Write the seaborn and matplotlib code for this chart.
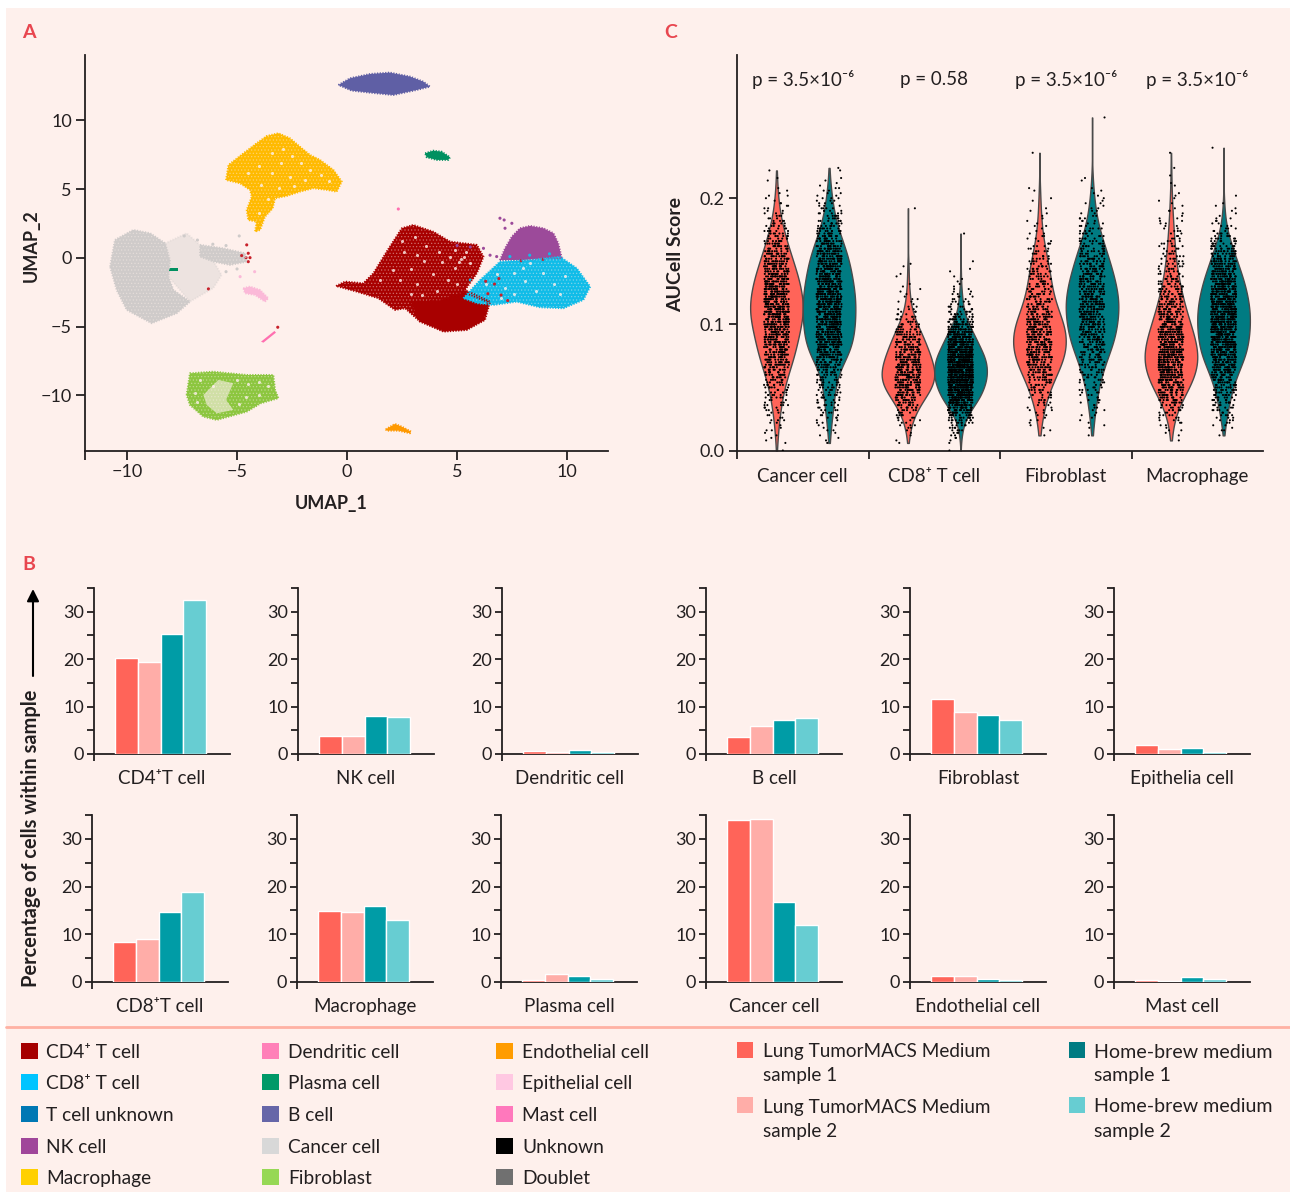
import numpy as np
import pandas as pd
import matplotlib.pyplot as plt
from matplotlib.colors import to_rgb
from matplotlib.patches import Rectangle
import seaborn as sns

# === Panel A: cluster outlines (UMAP_1, UMAP_2) ===
macrophage_outline = [(-5.5, 5.67), (-5.39, 6.76), (-4.71, 7.61), (-4.11, 8.34), (-3.65, 8.87), (-3.12, 9.07),
                      (-2.59, 8.70), (-2.06, 7.98), (-1.68, 7.49), (-1.23, 7.13), (-0.62, 6.40), (-0.24, 5.55),
                      (-0.47, 4.82), (-0.92, 4.95), (-1.53, 5.07), (-2.14, 4.82), (-2.74, 4.51), (-3.27, 4.34),
                      (-3.38, 3.61), (-3.73, 3.0), (-3.95, 2.04), (-4.18, 1.91), (-4.11, 2.64), (-4.49, 2.76),
                      (-4.56, 3.49), (-4.33, 4.46), (-4.41, 4.95), (-4.86, 5.43)]
cancer_body_outline = [(-10.77, -0.63), (-10.55, 1.31), (-9.71, 2.04), (-8.95, 1.80), (-8.27, 1.07), (-8.05, -0.15),
                       (-8.12, -1.36), (-7.89, -2.33), (-7.14, -3.18), (-7.74, -4.02), (-8.88, -4.75),
                       (-10.01, -3.78), (-10.47, -2.33)]
cancer_arm_outline = [(-6.68, 0.95), (-5.62, 0.70), (-4.64, 0.34), (-4.56, -0.27), (-5.32, -0.51), (-6.06, -0.27),
                      (-6.68, 0.09)]
cancer_fan_outline = [(-8.27, 1.07), (-7.29, 1.80), (-6.68, 0.95), (-6.06, -0.27), (-5.70, -1.24), (-6.08, -2.2),
                      (-7.14, -3.18), (-8.12, -1.36)]
fibroblast_outline = [(-7.29, -9.96), (-7.14, -8.39), (-6.08, -8.27), (-4.56, -8.51), (-3.35, -8.51), (-3.27, -9.6),
                      (-3.12, -10.2), (-3.92, -10.57), (-4.56, -11.18), (-5.92, -11.78), (-6.53, -11.54),
                      (-7.14, -10.69)]
fibroblast_hole = [(-6.53, -9.96), (-5.85, -8.87), (-5.17, -9.11), (-5.5, -10.33), (-5.17, -11.05), (-5.92, -11.3),
                   (-6.38, -10.69)]
epithelial_outline = [(-4.71, -2.2), (-4.41, -2.08), (-3.95, -2.33), (-3.58, -2.93), (-3.73, -3.18), (-4.18, -2.69),
                      (-4.64, -2.57)]
mast_outline = [(-3.91, -6.09), (-3.30, -5.31), (-3.23, -5.43), (-3.80, -6.16)]
plasma_small_outline = [(-8.08, -0.72), (-7.70, -0.72), (-7.70, -0.92), (-8.08, -0.92)]
bcell_outline = [(-0.39, 12.58), (0.14, 13.07), (1.05, 13.38), (1.95, 13.48), (2.86, 13.19), (3.47, 12.82),
                 (3.77, 12.46), (3.17, 12.22), (2.10, 11.85), (1.05, 12.02), (0.21, 12.17)]
plasma_outline = [(3.55, 7.61), (3.92, 7.80), (4.30, 7.73), (4.68, 7.32), (4.60, 7.13), (4.08, 7.13), (3.62, 7.32)]
endothelial_outline = [(1.76, -12.46), (2.18, -12.07), (2.49, -12.27), (2.91, -12.63), (2.86, -12.75), (2.33, -12.56),
                       (1.80, -12.56)]
cd4_outline = [(-0.5, -2.04), (-0.09, -1.72), (0.74, -1.84), (1.2, -1.11), (1.8, 0.46), (2.49, 2.16), (3.01, 2.4),
               (3.92, 1.91), (4.68, 1.19), (5.9, 0.95), (6.2, 0.09), (5.9, -1.11), (5.36, -2.33), (6.5, -3.18),
               (6.27, -4.51), (5.44, -5.24), (4.38, -5.36), (3.32, -4.63), (2.64, -3.66), (2.18, -3.78), (1.42, -2.93),
               (0.44, -2.45)]
cd4_dense_outline = [(2.9, -3.2), (4.2, -3.1), (5.3, -2.5), (6.4, -3.2), (6.2, -4.5), (5.4, -5.2), (4.4, -5.3),
                     (3.3, -4.6)]
nk_outline = [(6.95, -0.15), (7.18, 0.70), (7.49, 1.55), (7.86, 2.16), (8.32, 2.33), (8.92, 2.16), (9.38, 1.80),
              (9.6, 1.07), (9.76, -0.02), (9.08, -0.02), (8.01, -0.15)]
cd8_outline = [(5.29, -2.93), (6.05, -1.6), (6.95, -0.27), (8.32, -0.15), (9.68, 0.09), (10.44, -0.75), (11.05, -2.09),
               (10.74, -3.05), (9.83, -3.66), (8.77, -3.59), (7.71, -3.18), (6.65, -3.42), (5.9, -3.29)]

# gaps in the clouds, where the background shows through
red_gap_x = [1.5, 2.1, 2.6, 3.1, 3.6, 4.2, 4.9, 5.4, 5.6, 4.9, 4.3, 3.5, 2.9, 2.4, 3.2, 3.9, 4.6, 5.0, 3.4, 4.1, 2.9,
             3.2, 2.5, 4.7, 5.2, 5.1, 5.3]
red_gap_y = [-1.6, -0.9, 0.4, 1.5, 0.9, 0.4, 0.6, 0.4, -0.4, -0.7, -0.3, -0.2, -0.8, -1.6, -1.9, -1.2, -1.6, -1.9,
             -2.7, -2.4, -2.6, 0.2, 1.2, 0.1, -0.1, -0.3, 0.05]
gold_gap_x = [-3.4, -2.9, -2.5, -3.0, -2.1, -1.7, -1.2, -0.8, -1.9, -2.6, -3.4, -4.0, -4.5, -3.9, -3.1, -2.4, -3.6, -4.0]
gold_gap_y = [7.6, 7.9, 7.4, 6.9, 6.9, 6.4, 6.0, 5.6, 5.7, 5.9, 6.2, 6.7, 6.2, 5.3, 5.1, 5.2, 4.3, 3.3]
cyan_gap_x = [6.3, 6.8, 7.2, 7.6, 8.0, 8.1, 8.6, 8.9, 9.4, 9.9, 9.7, 7.0, 7.6, 8.3]
cyan_gap_y = [-1.9, -1.2, -2.2, -1.1, -0.7, -1.7, -2.4, -1.1, -1.9, -1.3, -2.6, -2.9, -2.6, -0.4]
green_gap_x = [-6.7, -6.1, -5.0, -4.5, -4.0, -3.6, -4.6, -4.0, -4.9, -6.9, -6.8]
green_gap_y = [-8.9, -9.3, -8.9, -9.2, -9.0, -9.3, -10.1, -10.0, -10.6, -9.8, -10.5]

stray_x = [-4.56, -4.79, -4.49, -4.59, -4.41, -4.49, -6.3, -3.15, 2.33, 6.95, 7.14, 7.18, 7.49, -4.86, -4.2,
           5.6, 5.9, 5.5, 6.2, 6.3, 6.7, 6.4, 7.0, 6.9, 7.9, 8.9, 7.3, 5.0, 5.6, 6.2, 6.5, 6.8, 7.4, 8.3, 9.2,
           -7.4, -6.8, -6.1, -5.5, -4.9, -5.5, -5.0]
stray_y = [0.95, 0.17, 0.34, 0.02, 0.02, -0.27, -2.25, -5.04, 3.56, 2.89, 2.76, 2.16, 2.52, -1.36, -1.0,
           -1.6, -2.4, -2.9, -3.1, -1.7, -1.9, -2.6, -2.7, -1.5, -0.2, -0.1, -3.1, 0.9, 0.8, 0.7, 0.2, 0.1, 0.1, 0.2, 0.3,
           1.6, 1.3, 1.0, 0.9, 1.6, -1.0, -0.8]
stray_cell = ["CD4", "CD4", "CD4", "CD4", "CD4", "CD4", "CD4", "CD4", "Mast", "NK", "NK", "NK", "NK", "Epi", "Epi",
              "CD8", "CD8", "CD8", "CD8", "CD4", "CD4", "CD4", "CD4", "CD4", "CD4", "CD4", "CD4",
              "NK", "NK", "NK", "NK", "NK", "CD8", "CD8", "CD8",
              "Cancer", "Cancer", "Cancer", "Cancer", "Cancer", "Cancer", "Cancer"]

# === Panel B: percentage of cells within sample (TM1, TM2, HB1, HB2) ===
samples = ["Lung TumorMACS Medium sample 1", "Lung TumorMACS Medium sample 2",
           "Home-brew medium sample 1", "Home-brew medium sample 2"]
top_cells = ["CD4\u207aT cell", "NK cell", "Dendritic cell", "B cell", "Fibroblast", "Epithelia cell"]
top_values = [[20.3, 19.4, 25.3, 32.5], [3.9, 3.7, 8.1, 7.7], [0.6, 0.5, 0.8, 0.5],
              [3.5, 5.8, 7.1, 7.5], [11.6, 8.9, 8.3, 7.1], [1.9, 1.1, 1.2, 0.4]]
bottom_cells = ["CD8\u207aT cell", "Macrophage", "Plasma cell", "Cancer cell", "Endothelial cell", "Mast cell"]
bottom_values = [[8.3, 9.0, 14.7, 18.9], [14.9, 14.7, 16.0, 13.0], [0.4, 1.7, 1.2, 0.7],
                 [34.0, 34.2, 16.8, 11.9], [1.3, 1.3, 0.7, 0.4], [0.4, 0.3, 1.0, 0.7]]

# === Panel C: AUCell score histograms, counts per score bin ===
score_bins = [0.000, 0.002, 0.004, 0.006, 0.008, 0.010, 0.012, 0.014, 0.016, 0.018, 0.020, 0.022, 0.024, 0.026,
              0.028, 0.030, 0.032, 0.034, 0.036, 0.038, 0.040, 0.042, 0.044, 0.046, 0.048, 0.050, 0.052, 0.054,
              0.056, 0.058, 0.060, 0.062, 0.064, 0.066, 0.068, 0.070, 0.072, 0.074, 0.076, 0.078, 0.080, 0.082,
              0.084, 0.086, 0.088, 0.090, 0.092, 0.094, 0.096, 0.098, 0.100, 0.102, 0.104, 0.106, 0.108, 0.110,
              0.112, 0.114, 0.116, 0.118, 0.120, 0.122, 0.124, 0.126, 0.128, 0.130, 0.132, 0.134, 0.136, 0.138,
              0.140, 0.142, 0.144, 0.146, 0.148, 0.150, 0.152, 0.154, 0.156, 0.158, 0.160, 0.162, 0.164, 0.166,
              0.168, 0.170, 0.172, 0.174, 0.176, 0.178, 0.180, 0.182, 0.184, 0.186, 0.188, 0.190, 0.192, 0.194,
              0.196, 0.198, 0.200, 0.202, 0.204, 0.206, 0.208, 0.210, 0.212, 0.214, 0.216, 0.218, 0.220, 0.222,
              0.224, 0.226, 0.228, 0.230, 0.232, 0.234, 0.236, 0.238, 0.240, 0.242, 0.244, 0.246, 0.248, 0.250,
              0.252, 0.254, 0.256, 0.258, 0.260, 0.262, 0.264, 0.266]
violin_cells = ["Cancer cell", "CD8\u207a T cell", "Fibroblast", "Macrophage"]
violin_groups = ["TumorMACS", "Home-brew"]
cancer_tm = [1, 0, 0, 1, 1, 1, 1, 1, 2, 1, 1, 2, 3, 2, 2, 3, 3, 3, 5, 3, 3, 5, 6, 5, 5, 6, 8, 6, 7, 8, 10, 9, 9, 11,
             13, 12, 12, 13, 15, 14, 14, 15, 17, 16, 15, 17, 19, 17, 17, 19, 20, 19, 19, 20, 22, 21, 20, 21, 22, 20,
             19, 20, 21, 19, 17, 19, 19, 18, 16, 17, 17, 15, 13, 15, 14, 13, 11, 12, 12, 10, 8, 10, 9, 8, 6, 7, 7, 6,
             4, 5, 5, 4, 3, 3, 3, 2, 2, 2, 2, 1, 1, 2, 1, 1, 1, 0, 0, 1, 1, 0, 0, 1]
cancer_hb = [0, 0, 0, 1, 1, 1, 1, 1, 2, 1, 2, 2, 2, 3, 3, 3, 4, 3, 4, 4, 4, 5, 6, 4, 5, 6, 6, 6, 7, 6, 8, 7, 9, 10, 13,
             12, 14, 16, 19, 17, 19, 20, 22, 19, 21, 22, 23, 21, 22, 23, 24, 22, 22, 23, 25, 22, 23, 23, 22, 25, 24,
             22, 22, 23, 23, 21, 20, 22, 22, 19, 19, 20, 20, 18, 17, 19, 18, 16, 15, 16, 15, 13, 12, 13, 11, 10, 9, 9,
             8, 7, 7, 6, 5, 5, 5, 4, 4, 3, 3, 3, 3, 2, 2, 2, 2, 1, 1, 1, 1, 0, 0, 1, 1, 0]
cd8_tm = [0, 0, 0, 1, 1, 0, 1, 1, 1, 2, 3, 2, 3, 4, 5, 4, 6, 7, 9, 8, 10, 11, 14, 12, 15, 16, 18, 16, 17, 19, 19, 17,
          16, 18, 17, 16, 16, 15, 13, 15, 14, 12, 11, 12, 11, 9, 10, 9, 7, 7, 6, 5, 5, 4, 3, 3, 3, 2, 1, 2, 2, 1, 1, 1,
          1, 1, 1, 0, 0, 1, 1, 0, 0, 1, 1, 0, 0, 0, 0, 0, 0, 0, 0, 0, 0, 0, 0, 0, 0, 0, 0, 0, 0, 0, 0, 0, 1]
cd8_hb = [1, 0, 0, 1, 1, 2, 2, 3, 4, 4, 5, 7, 9, 10, 13, 15, 19, 21, 26, 29, 32, 34, 37, 39, 41, 43, 44, 46, 46, 48,
          49, 47, 50, 47, 46, 49, 46, 43, 42, 40, 38, 35, 33, 31, 29, 26, 25, 23, 19, 17, 15, 13, 11, 10, 8, 7, 5, 5,
          4, 4, 3, 3, 3, 2, 2, 1, 1, 1, 1, 1, 0, 1, 1, 0, 0, 1, 0, 0, 0, 0, 0, 0, 0, 0, 0, 0, 1]
fib_tm = [0, 0, 0, 0, 0, 0, 1, 0, 1, 1, 1, 1, 2, 1, 2, 2, 3, 2, 3, 4, 4, 4, 5, 5, 7, 5, 7, 7, 8, 9, 11, 9, 11, 12, 13,
          12, 13, 15, 15, 14, 16, 14, 15, 16, 16, 15, 14, 16, 15, 14, 13, 14, 13, 12, 11, 11, 11, 9, 9, 9, 8, 8, 8, 7,
          7, 7, 7, 6, 6, 6, 6, 6, 6, 5, 5, 5, 5, 4, 3, 4, 3, 3, 3, 2, 2, 2, 2, 1, 1, 2, 1, 1, 1, 1, 1, 1, 1, 0, 0, 1,
          1, 0, 0, 1, 1, 0, 0, 0, 0, 0, 0, 0, 0, 0, 0, 0, 0, 0, 1]
fib_hb = [0, 0, 0, 0, 0, 0, 1, 0, 0, 1, 1, 1, 1, 1, 2, 1, 2, 2, 2, 2, 3, 2, 3, 3, 4, 3, 4, 4, 5, 4, 6, 5, 6, 6, 7, 7,
          9, 7, 9, 9, 11, 10, 12, 11, 12, 13, 13, 12, 13, 13, 14, 13, 14, 14, 15, 13, 14, 15, 15, 14, 14, 14, 15, 13,
          13, 13, 13, 12, 12, 12, 12, 10, 11, 10, 10, 9, 9, 9, 8, 8, 7, 7, 6, 6, 5, 5, 5, 4, 4, 3, 3, 3, 3, 2, 2, 2,
          2, 1, 2, 1, 1, 1, 1, 1, 1, 0, 0, 1, 1, 0, 0, 0, 0, 0, 0, 0, 0, 0, 0, 0, 0, 0, 0, 0, 0, 0, 0, 0, 0, 0, 0, 0, 1]
mac_tm = [0, 0, 0, 0, 1, 0, 1, 1, 2, 1, 2, 2, 3, 3, 4, 4, 6, 5, 7, 8, 10, 10, 13, 12, 14, 15, 17, 17, 20, 18, 20, 21,
          23, 21, 22, 23, 24, 22, 22, 23, 23, 21, 21, 21, 21, 19, 18, 19, 18, 17, 16, 16, 15, 14, 14, 13, 12, 12, 11,
          11, 10, 10, 9, 9, 8, 8, 7, 7, 7, 6, 6, 5, 5, 5, 5, 4, 4, 4, 4, 3, 3, 4, 3, 3, 3, 2, 2, 3, 2, 2, 2, 2, 2, 1,
          1, 2, 1, 1, 1, 1, 1, 1, 1, 0, 0, 1, 1, 0, 0, 1, 0, 0, 1, 0, 0, 0, 0, 0, 1, 0]
mac_hb = [0, 0, 0, 0, 0, 0, 1, 0, 2, 1, 2, 2, 3, 3, 4, 3, 5, 4, 5, 6, 7, 6, 8, 7, 9, 9, 10, 10, 13, 11, 14, 14, 16, 16,
          19, 18, 20, 21, 23, 22, 24, 23, 25, 24, 26, 24, 25, 26, 27, 25, 26, 26, 27, 26, 26, 26, 26, 25, 25, 25, 25,
          23, 23, 23, 23, 21, 20, 21, 20, 18, 18, 17, 16, 15, 14, 14, 13, 11, 11, 10, 9, 9, 7, 7, 6, 5, 4, 4, 3, 3, 2,
          2, 2, 1, 1, 1, 1, 1, 1, 0, 0, 1, 0, 0, 0, 0, 0, 0, 0, 0, 0, 0, 0, 0, 0, 0, 0, 0, 0, 0, 1]
violin_counts = [cancer_tm, cancer_hb, cd8_tm, cd8_hb, fib_tm, fib_hb, mac_tm, mac_hb]
p_labels = ["p = 3.5\u00d710\u207b\u2076", "p = 0.58", "p = 3.5\u00d710\u207b\u2076", "p = 3.5\u00d710\u207b\u2076"]

# === Legend ===
legend_col1 = ["CD4\u207a T cell", "CD8\u207a T cell", "T cell unknown", "NK cell", "Macrophage"]
legend_col1_colors = ["#A50000", "#00C4FF", "#0078B4", "#A0469A", "#FFD000"]
legend_col2 = ["Dendritic cell", "Plasma cell", "B cell", "Cancer cell", "Fibroblast"]
legend_col2_colors = ["#FF80B8", "#009968", "#6666A8", "#D8D8D8", "#96D855"]
legend_col3 = ["Endothelial cell", "Epithelial cell", "Mast cell", "Unknown", "Doublet"]
legend_col3_colors = ["#FF9C00", "#FFC8E2", "#FF78BC", "#000000", "#707070"]

# === Style ===
BG = "#FEF0EC"
INK = "#231F20"
W, H = 1290, 1193
sns.set_theme(style="ticks")
plt.rcParams.update({
    "font.family": ["Lato", "Noto Sans", "DejaVu Sans"],
    "font.size": 13,
    "text.color": INK,
    "axes.labelcolor": INK,
    "axes.edgecolor": INK,
    "xtick.color": INK,
    "ytick.color": INK,
    "axes.facecolor": "none",
    "figure.facecolor": "white",
    "hatch.linewidth": 0.5,
})

fig = plt.figure(figsize=(W / 100, H / 100), dpi=100)


def px_axes(left, top, right, bottom):
    return fig.add_axes([left / W, 1 - bottom / H, (right - left) / W, (bottom - top) / H])


def blend(color, amount):
    return tuple((1 - amount) * c + amount * b for c, b in zip(to_rgb(color), to_rgb(BG)))


# === Background and hand placed text (pixel coordinates) ===
bg = fig.add_axes([0, 0, 1, 1], zorder=-1)
bg.set_xlim(0, W)
bg.set_ylim(H, 0)
bg.axis("off")
bg.add_patch(Rectangle((6, 8), 1284, 1184, color=BG, lw=0))
bg.plot([6, 1290], [1027, 1027], color="#FFB1A3", lw=2)
for letter, x, y in [("A", 22, 32), ("B", 22, 564), ("C", 664, 32)]:
    bg.text(x, y, letter, color="#E8464F", fontweight="bold", fontsize=14, va="center")

for labels, colors, sx, tx in [(legend_col1, legend_col1_colors, 21, 46), (legend_col2, legend_col2_colors, 262, 288),
                               (legend_col3, legend_col3_colors, 496, 522)]:
    for label, color, y in zip(labels, colors, [1051, 1082, 1114, 1146, 1177]):
        bg.add_patch(Rectangle((sx, y - 8), 17, 16, color=color, lw=0))
        bg.text(tx, y + 1.5, label, fontsize=13.8, va="center")

for sx, tx, first, color1, color2, size in [(737, 763, "Lung TumorMACS Medium", "#FF6459", "#FFADA8", 13.6),
                                            (1069, 1094, "Home-brew medium", "#007B82", "#67CDD2", 14.1)]:
    for y, num, color in [(1051, 1, color1), (1106, 2, color2)]:
        bg.add_patch(Rectangle((sx, y - 9), 16, 16, color=color, lw=0))
        bg.text(tx, y + 1, first, fontsize=size, va="center")
        bg.text(tx, y + 25, f"sample {num}", fontsize=size, va="center")

bg.text(31, 838, "Percentage of cells within sample", rotation=90, fontsize=14.4, fontweight="bold",
        ha="center", va="center")
bg.annotate("", xy=(33, 589), xytext=(33, 676), arrowprops=dict(arrowstyle="-|>", color="black", lw=1.5,
                                                               mutation_scale=18, shrinkA=0, shrinkB=0))

# === A. UMAP ===
ax = px_axes(85, 55, 608, 451)
ax.set_xlim(-11.91, 11.86)
ax.set_ylim(-14.04, 14.76)
clusters = [
    (cancer_fan_outline, "#CFCBCA", 0.35, None),
    (cancer_body_outline, "#CFCBCA", 1, "....."),
    (cancer_arm_outline, "#CFCBCA", 1, "....."),
    (fibroblast_outline, "#8CC63F", 1, "....."),
    (macrophage_outline, "#FFBA00", 1, "....."),
    (cd4_outline, "#A80000", 1, "....."),
    (cd4_dense_outline, "#A80000", 1, None),
    (nk_outline, "#9C4A9A", 1, None),
    (cd8_outline, "#10BCE8", 1, "....."),
    (bcell_outline, "#5F5FA5", 1, None),
    (plasma_outline, "#009060", 1, None),
    (plasma_small_outline, "#009060", 1, None),
    (endothelial_outline, "#FF9900", 1, None),
    (epithelial_outline, "#FBB9D8", 1, None),
    (mast_outline, "#FF6FB0", 1, None),
]
for outline, color, alpha, hatch in clusters:
    xs, ys = zip(*outline)
    ax.fill(xs, ys, facecolor=color, edgecolor=blend(color, 0.45) if hatch else color, alpha=alpha, hatch=hatch, lw=0)
    # dotted rim so the cloud edge looks rough instead of cut with scissors
    if len(outline) > 4:
        ax.plot(list(xs) + [xs[0]], list(ys) + [ys[0]], color=color, alpha=alpha, lw=1.4, ls=(0, (0.6, 0.8)))
xs, ys = zip(*fibroblast_hole)
ax.fill(xs, ys, facecolor=BG, alpha=0.6, lw=0)
for gap_x, gap_y in [(red_gap_x, red_gap_y), (gold_gap_x, gold_gap_y), (cyan_gap_x, cyan_gap_y),
                     (green_gap_x, green_gap_y)]:
    sns.scatterplot(x=gap_x, y=gap_y, color=BG, s=5, linewidth=0, alpha=0.8, legend=False, ax=ax)
stray_df = pd.DataFrame({"x": stray_x, "y": stray_y, "cell": stray_cell})
sns.scatterplot(data=stray_df, x="x", y="y", hue="cell", s=5, linewidth=0, legend=False, ax=ax,
                palette={"CD4": "#C8202A", "CD8": "#10BCE8", "Mast": "#FF6FB0", "NK": "#9C4A9A", "Epi": "#FBB9D8",
                         "Cancer": "#CFCBCA"})
ax.set_xticks([-11.91, -10, -5, 0, 5, 10], ["", "\u221210", "\u22125", "0", "5", "10"])
ax.set_yticks([-10, -5, 0, 5, 10], ["\u221210", "\u22125", "0", "5", "10"])
ax.tick_params(length=6.5, width=1.3, labelsize=13, pad=3)
ax.set_xlabel("UMAP_1", fontweight="bold", fontsize=13, labelpad=5)
ax.xaxis.set_label_coords(0.471, -0.112)
ax.set_ylabel("UMAP_2", fontweight="bold", fontsize=13)
ax.yaxis.set_label_coords(-0.087, 0.518)
sns.despine(ax=ax)
for side in ["left", "bottom"]:
    ax.spines[side].set_linewidth(1.3)

# === B. Bars ===
bar_palette = dict(zip(samples, ["#FF6459", "#FFADA8", "#009CA6", "#67CDD2"]))
for cells, values, top, bottom, lefts in [
    (top_cells, top_values, 588, 754, [94, 298, 502, 706, 910, 1114]),
    (bottom_cells, bottom_values, 815, 982, [92, 297, 501, 706, 910, 1114]),
]:
    for cell, vals, left in zip(cells, values, lefts):
        ax = px_axes(left, top, left + 136, bottom)
        bar_df = pd.DataFrame({"sample": samples, "pct": vals})
        sns.barplot(data=bar_df, x="sample", y="pct", hue="sample", palette=bar_palette, width=1, dodge=False,
                    saturation=1, legend=False, ax=ax, zorder=3)
        ax.set_xlim(-1.42, 4.54)
        ax.set_ylim(0, 35)
        ax.set_xticks([-1.42], [""])
        ax.set_yticks([0, 5, 10, 15, 20, 25, 30, 35], ["0", "", "10", "", "20", "", "30", ""])
        ax.tick_params(length=5, width=1.3, labelsize=13, pad=2)
        ax.set_xlabel(cell, fontsize=13.5, labelpad=4.5)
        ax.set_ylabel("")
        sns.despine(ax=ax)
        for side in ["left", "bottom"]:
            ax.spines[side].set_linewidth(1.3)

# === C. Violins ===
rows = []
for i, counts in enumerate(violin_counts):
    rows.append(pd.DataFrame({
        "cell": violin_cells[i // 2],
        "group": violin_groups[i % 2],
        "score": np.repeat(score_bins[:len(counts)], counts),
    }))
violin_df = pd.concat(rows, ignore_index=True)

ax = px_axes(737, 55, 1263, 450.5)
sns.violinplot(data=violin_df, x="cell", y="score", hue="group", order=violin_cells, hue_order=violin_groups,
               palette=["#FF6459", "#007B82"], density_norm="width", cut=0, inner=None, width=0.8, gap=0,
               linewidth=1, linecolor="#4A4A4A", saturation=1, legend=False, ax=ax)
sns.stripplot(data=violin_df, x="cell", y="score", hue="group", order=violin_cells, hue_order=violin_groups,
              palette=["black", "black"], dodge=True, jitter=0.19, size=1.5, linewidth=0, legend=False, ax=ax)
ax.set_xlim(-0.5, 3.5)
ax.set_ylim(0, 0.3135)
ax.set_yticks([0, 0.1, 0.2], ["0.0", "0.1", "0.2"])
ax.set_xticks([-0.5, 0.5, 1.5, 2.5], [""] * 4)
ax.tick_params(length=6, width=1.3, labelsize=13, pad=3)
for i, (cell, label) in enumerate(zip(violin_cells, p_labels)):
    ax.text(i, -0.0142, cell, ha="center", va="top", fontsize=13.5)
    ax.text(i, 0.2939, label, ha="center", va="center", fontsize=13.5)
ax.set_xlabel("")
ax.set_ylabel("AUCell Score", fontweight="bold", fontsize=14)
ax.yaxis.set_label_coords(-0.101, 0.495)
sns.despine(ax=ax)
for side in ["left", "bottom"]:
    ax.spines[side].set_linewidth(1.3)

fig.savefig("out.png", dpi=100)
